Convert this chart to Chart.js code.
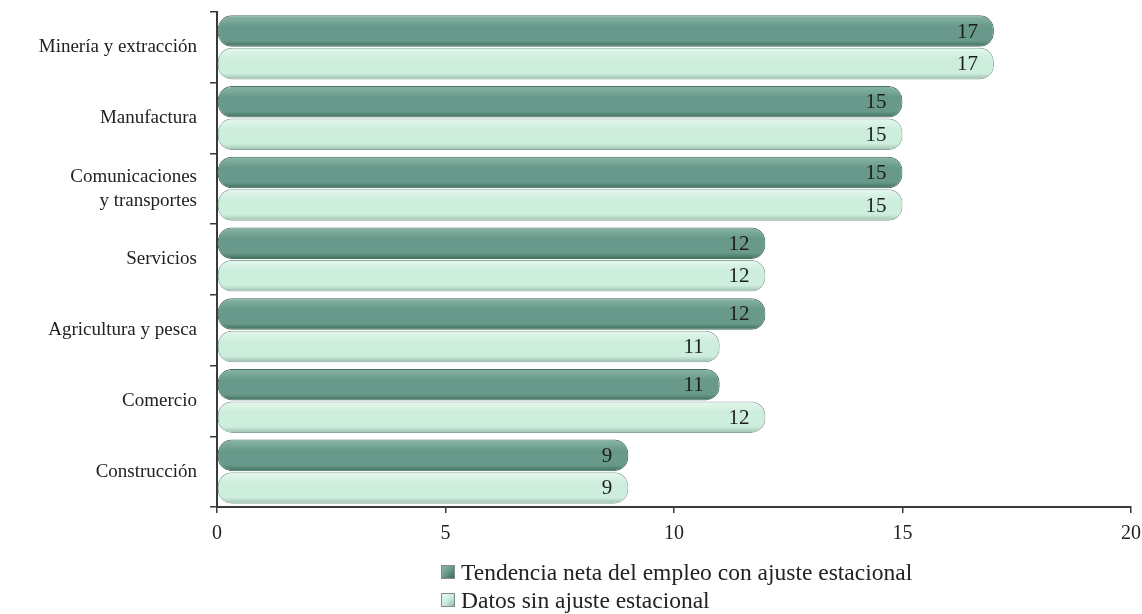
<!DOCTYPE html>
<html>
<head>
<meta charset="utf-8">
<script src="https://cdn.jsdelivr.net/npm/chart.js@4.4.1/dist/chart.umd.min.js"></script>
<style>
  html, body { margin: 0; padding: 0; background: #ffffff; }
  #wrap { position: relative; width: 1142px; height: 614px; }
  #legend { position: absolute; left: 441px; top: 558px; font-family: "Liberation Serif", serif; font-size: 23.5px; color: #222; line-height: 28px; }
  .item { display: flex; align-items: center; }
  .box { width: 14px; height: 14px; margin-right: 6px; border: 1px solid #7d8f88; box-sizing: border-box; }
</style>
</head>
<body>
<div id="wrap">
  <canvas id="c" width="1142" height="614"></canvas>
  <div id="legend"></div>
</div>
<script>
const categories = ["Minería y extracción", "Manufactura", ["Comunicaciones", "y transportes"], "Servicios", "Agricultura y pesca", "Comercio", "Construcción"];
const seriesNames = ["Tendencia neta del empleo con ajuste estacional", "Datos sin ajuste estacional"];
const trendValues = [17, 15, 15, 12, 12, 11, 9];
const rawValues = [17, 15, 15, 12, 11, 12, 9];
const xTicks = [0, 5, 10, 15, 20];

const palettes = [
  { top: "#8ab8a6", mid: "#68998a", bot: "#3b6a5a", solid: "#5f9280", border: "#4a6d60" },
  { top: "#e6f8ee", mid: "#cdeedc", bot: "#98b8a9", solid: "#c8ebd9", border: "#8ba99b" }
];

const CAT_PCT = 0.92, BAR_PCT = 0.97;

function barGradient(ctx, dsIndex) {
  const chart = ctx.chart;
  const area = chart.chartArea;
  const pal = palettes[dsIndex];
  if (!area || !chart.scales.y || ctx.type !== 'data') return pal.solid;
  const y = chart.scales.y;
  const band = area.height / categories.length;
  const center = y.getPixelForValue(ctx.dataIndex);
  const half = band * CAT_PCT / 2;
  const top = center - half + dsIndex * half;
  const bot = top + half;
  const g = chart.ctx.createLinearGradient(0, top, 0, bot);
  g.addColorStop(0, pal.top);
  g.addColorStop(0.35, pal.mid);
  g.addColorStop(0.8, pal.mid);
  g.addColorStop(1, pal.bot);
  return g;
}

const valueLabels = {
  id: 'valueLabels',
  afterDatasetsDraw(chart) {
    const c = chart.ctx;
    c.save();
    c.font = '21px "Liberation Serif", serif';
    c.fillStyle = '#1c1c1c';
    c.textAlign = 'right';
    c.textBaseline = 'middle';
    chart.data.datasets.forEach((ds, i) => {
      chart.getDatasetMeta(i).data.forEach((el, j) => {
        c.fillText(String(ds.data[j]), el.x - 16, el.y + 1);
      });
    });
    c.restore();
  }
};

const chart = new Chart(document.getElementById('c'), {
  type: 'bar',
  data: {
    labels: categories,
    datasets: [
      { label: seriesNames[0], data: trendValues, backgroundColor: (ctx) => barGradient(ctx, 0), borderColor: palettes[0].border },
      { label: seriesNames[1], data: rawValues, backgroundColor: (ctx) => barGradient(ctx, 1), borderColor: palettes[1].border }
    ]
  },
  options: {
    indexAxis: 'y',
    responsive: false,
    animation: false,
    devicePixelRatio: 1,
    layout: { padding: { top: 12, right: 11, left: 0, bottom: 67 } },
    datasets: {
      bar: { categoryPercentage: CAT_PCT, barPercentage: BAR_PCT, borderWidth: 1, borderRadius: 14, borderSkipped: false }
    },
    plugins: {
      legend: { display: false },
      tooltip: { enabled: false }
    },
    scales: {
      x: {
        min: 0, max: 20,
        afterBuildTicks(scale) { scale.ticks = xTicks.map(v => ({ value: v })); },
        afterFit(scale) { scale.height = 40; scale.paddingLeft = 0; scale.paddingRight = 0; },
        border: { display: true, color: '#3a3a3a', width: 2 },
        grid: { display: true, drawOnChartArea: false, drawTicks: true, tickLength: 6, color: '#3a3a3a', lineWidth: 1.5 },
        ticks: { color: '#222', font: { family: '"Liberation Serif", serif', size: 20 }, padding: 9, maxRotation: 0 }
      },
      y: {
        afterFit(scale) { scale.width = 217; scale.paddingTop = 0; scale.paddingBottom = 0; },
        border: { display: true, color: '#3a3a3a', width: 2 },
        grid: { display: true, offset: true, drawOnChartArea: false, drawTicks: true, tickLength: 7, color: '#3a3a3a', lineWidth: 1.5 },
        ticks: { color: '#222', font: { family: '"Liberation Serif", serif', size: 19, lineHeight: 1.25 }, padding: 13, crossAlign: 'near' }
      }
    }
  },
  plugins: [valueLabels]
});

const legend = document.getElementById('legend');
seriesNames.forEach((name, i) => {
  const item = document.createElement('div');
  item.className = 'item';
  const box = document.createElement('span');
  box.className = 'box';
  box.style.background = `linear-gradient(135deg, ${palettes[i].top}, ${palettes[i].mid} 50%, ${palettes[i].bot})`;
  const txt = document.createElement('span');
  txt.textContent = name;
  item.appendChild(box);
  item.appendChild(txt);
  legend.appendChild(item);
});
</script>
</body>
</html>
